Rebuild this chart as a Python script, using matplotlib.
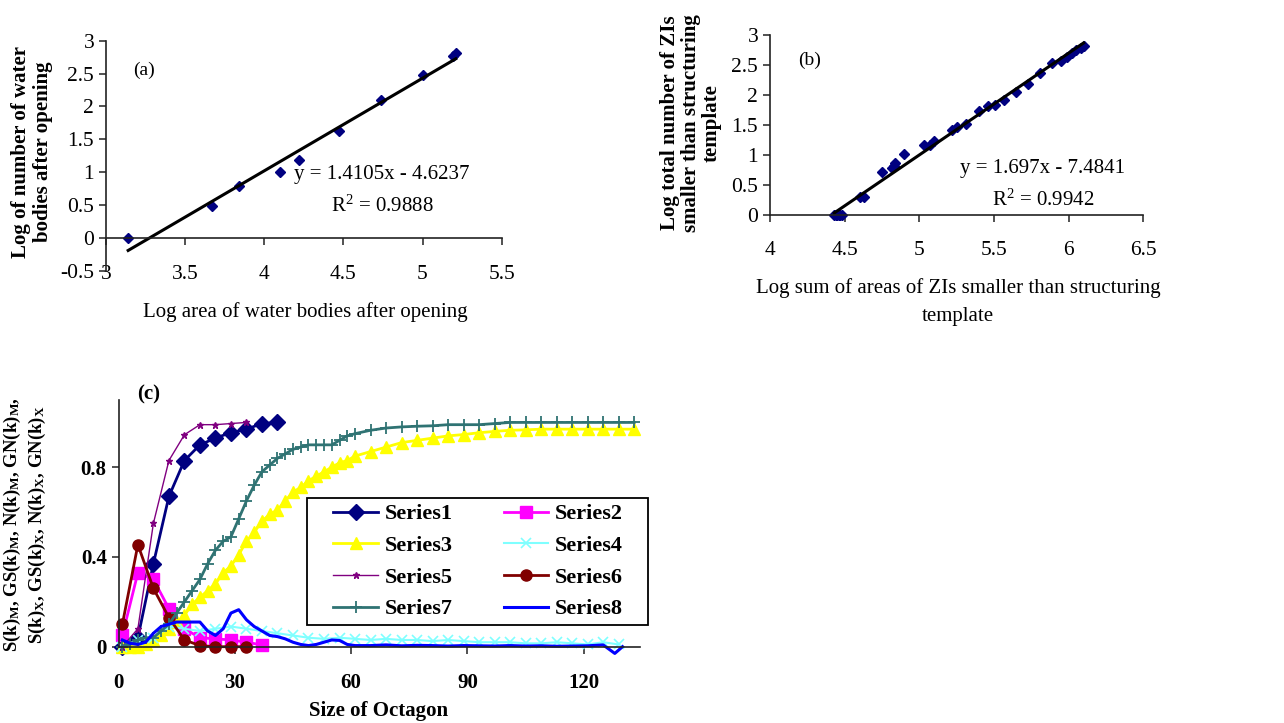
import matplotlib
matplotlib.use("Agg")
import matplotlib.pyplot as plt
from matplotlib.patches import Rectangle
import numpy as np

plt.rcParams['font.family'] = ['Liberation Serif', 'DejaVu Serif']
plt.rcParams['mathtext.fontset'] = 'custom'
plt.rcParams['mathtext.rm'] = 'Liberation Serif'
plt.rcParams['mathtext.bf'] = 'Liberation Serif:bold'
plt.rcParams['mathtext.it'] = 'Liberation Serif:italic'

# ---------------- Panel (a) data ----------------
a_x = [3.14, 3.67, 3.84, 4.10, 4.22, 4.47, 4.74, 5.00, 5.19, 5.21]
a_y = [0.00, 0.48, 0.79, 1.00, 1.18, 1.63, 2.09, 2.47, 2.76, 2.81]
a_slope, a_intercept = 1.4105, -4.6237
a_eq = "y = 1.4105x - 4.6237"
a_r2 = "R$^2$ = 0.9888"
a_xticks = [3, 3.5, 4, 4.5, 5, 5.5]
a_xticklabels = ["3", "3.5", "4", "4.5", "5", "5.5"]
a_yticks = [-0.5, 0, 0.5, 1, 1.5, 2, 2.5, 3]
a_yticklabels = ["-0.5", "0", "0.5", "1", "1.5", "2", "2.5", "3"]

# ---------------- Panel (b) data ----------------
b_x = [4.43, 4.44, 4.45, 4.46, 4.47, 4.48, 4.60, 4.63, 4.75, 4.82, 4.83,
       4.84, 4.90, 5.03, 5.07, 5.10, 5.22, 5.25, 5.31, 5.40, 5.46, 5.51,
       5.57, 5.65, 5.73, 5.81, 5.89, 5.95, 5.99, 6.02, 6.05, 6.08, 6.10]
b_y = [0.00, 0.00, 0.00, 0.00, 0.00, 0.00, 0.30, 0.30, 0.72, 0.78, 0.81,
       0.86, 1.02, 1.16, 1.17, 1.24, 1.42, 1.46, 1.52, 1.73, 1.81, 1.83,
       1.92, 2.05, 2.18, 2.36, 2.54, 2.57, 2.64, 2.70, 2.75, 2.78, 2.81]
b_slope, b_intercept = 1.697, -7.4841
b_eq = "y = 1.697x - 7.4841"
b_r2 = "R$^2$ = 0.9942"
b_xticks = [4, 4.5, 5, 5.5, 6, 6.5]
b_xticklabels = ["4", "4.5", "5", "5.5", "6", "6.5"]
b_yticks = [0, 0.5, 1, 1.5, 2, 2.5, 3]
b_yticklabels = ["0", "0.5", "1", "1.5", "2", "2.5", "3"]

# ---------------- Panel (c) data ----------------
s1_x = [1, 5, 9, 13, 17, 21, 25, 29, 33, 37, 41]
s1_y = [0.00, 0.04, 0.37, 0.67, 0.83, 0.90, 0.93, 0.955, 0.97, 0.995, 1.00]

s2_x = [1, 5, 9, 13, 17, 21, 25, 29, 33, 37]
s2_y = [0.05, 0.33, 0.30, 0.17, 0.08, 0.04, 0.035, 0.03, 0.02, 0.008]

s37_x = [1, 3, 5, 7, 9, 11, 13, 15, 17, 19, 21, 23, 25, 27, 29, 31, 33, 35,
         37, 39, 41, 43, 45, 47, 49, 51, 53, 55, 57, 59, 61, 65, 69, 73, 77,
         81, 85, 89, 93, 97, 101, 105, 109, 113, 117, 121, 125, 129, 133]
s3_y = [0.00, 0.00, 0.00, 0.01, 0.03, 0.05, 0.08, 0.11, 0.14, 0.19, 0.22,
        0.25, 0.28, 0.33, 0.36, 0.41, 0.47, 0.51, 0.56, 0.59, 0.61, 0.65,
        0.69, 0.71, 0.74, 0.76, 0.78, 0.80, 0.82, 0.83, 0.85, 0.87, 0.89,
        0.91, 0.92, 0.93, 0.94, 0.946, 0.954, 0.96, 0.965, 0.967, 0.97,
        0.97, 0.97, 0.97, 0.97, 0.97, 0.97]
s7_y = [0.00, 0.01, 0.03, 0.04, 0.04, 0.07, 0.10, 0.15, 0.20, 0.25, 0.30,
        0.37, 0.43, 0.47, 0.49, 0.57, 0.65, 0.72, 0.78, 0.81, 0.84, 0.86,
        0.88, 0.89, 0.90, 0.90, 0.90, 0.90, 0.92, 0.94, 0.95, 0.965, 0.975,
        0.98, 0.983, 0.985, 0.99, 0.99, 0.99, 0.995, 1.00, 1.00, 1.00,
        1.00, 1.00, 1.00, 1.00, 1.00, 1.00]

s4_x = [1, 5, 9, 13, 17, 21, 25, 29, 33, 37, 41, 45, 49, 53, 57, 61, 65,
        69, 73, 77, 81, 85, 89, 93, 97, 101, 105, 109, 113, 117, 121, 125, 129]
s4_y = [0.00, 0.03, 0.04, 0.09, 0.08, 0.07, 0.08, 0.09, 0.08, 0.07, 0.06,
        0.05, 0.04, 0.035, 0.04, 0.035, 0.03, 0.035, 0.03, 0.03, 0.025,
        0.03, 0.025, 0.02, 0.02, 0.02, 0.015, 0.015, 0.02, 0.015, 0.01,
        0.02, 0.01]

s5_x = [1, 5, 9, 13, 17, 21, 25, 29, 33]
s5_y = [0.00, 0.08, 0.55, 0.83, 0.945, 0.99, 0.99, 0.995, 1.00]

s6_x = [1, 5, 9, 13, 17, 21, 25, 29, 33]
s6_y = [0.10, 0.455, 0.26, 0.13, 0.03, 0.005, 0.00, 0.00, 0.00]

s8_x = [1, 3, 5, 7, 9, 11, 13, 15, 17, 19, 21, 23, 25, 27, 29, 31, 33, 35,
        37, 39, 41, 43, 45, 47, 49, 51, 53, 55, 57, 59, 61, 65, 69, 73, 77,
        81, 85, 89, 93, 97, 101, 105, 109, 113, 117, 121, 125, 128, 130]
s8_y = [0.03, 0.015, 0.01, 0.02, 0.06, 0.09, 0.10, 0.11, 0.11, 0.11, 0.11,
        0.07, 0.05, 0.08, 0.15, 0.165, 0.12, 0.09, 0.07, 0.05, 0.045, 0.035,
        0.02, 0.01, 0.005, 0.01, 0.02, 0.03, 0.028, 0.01, 0.005, 0.005,
        0.008, 0.004, 0.006, 0.005, 0.003, 0.005, 0.004, 0.003, 0.005,
        0.003, 0.004, 0.002, 0.003, 0.004, 0.008, -0.03, 0.00]

c_xticks = [0, 30, 60, 90, 120]
c_yticks = [0, 0.4, 0.8]
c_yticklabels = ["0", "0.4", "0.8"]
series_names = ["Series1", "Series2", "Series3", "Series4",
                "Series5", "Series6", "Series7", "Series8"]

W, H = 1284, 723
fig = plt.figure(figsize=(W / 100, H / 100), dpi=100)


def frac(left, top, right, bottom):
    return [left / W, 1 - bottom / H, (right - left) / W, (bottom - top) / H]


def style_axes(ax, fs, bold=False):
    ax.spines['top'].set_visible(False)
    ax.spines['right'].set_visible(False)
    for s in ('left', 'bottom'):
        ax.spines[s].set_linewidth(1.2)
        ax.spines[s].set_color('#222222')
    ax.tick_params(direction='out', length=5, width=1.1, labelsize=fs,
                   color='#222222')
    if bold:
        for lab in ax.get_xticklabels() + ax.get_yticklabels():
            lab.set_fontweight('bold')


# ---------------- Panel (a) ----------------
ax_a = fig.add_axes(frac(106, 40.7, 501.7, 270.5))
ax_a.set_xlim(3, 5.5)
ax_a.set_ylim(-0.5, 3)
ax_a.spines['bottom'].set_position(('data', 0))
ax_a.set_xticks(a_xticks)
ax_a.set_xticklabels(a_xticklabels)
ax_a.set_yticks(a_yticks)
ax_a.set_yticklabels(a_yticklabels)
style_axes(ax_a, 15.5)
ax_a.tick_params(axis='x', pad=15)
ax_a.plot(a_x, a_y, linestyle='none', marker='D', markersize=5,
          color='#000080', clip_on=False)
a_line_x = np.array([min(a_x), max(a_x)])
ax_a.plot(a_line_x, a_slope * a_line_x + a_intercept, color='black', lw=2.2)
fig.text(382 / W, 1 - 175 / H, a_eq, fontsize=15, ha='center', va='center')
fig.text(382 / W, 1 - 206 / H, a_r2, fontsize=15, ha='center', va='center')
fig.text(144 / W, 1 - 70 / H, "(a)", fontsize=14, ha='center', va='center')
fig.text(32 / W, 1 - 152 / H, "Log of number of water\nbodies after opening",
         rotation=90, fontsize=15, fontweight='bold', ha='center',
         va='center', multialignment='center', linespacing=1.1)
fig.text(305 / W, 1 - 312 / H, "Log area of water bodies after opening",
         fontsize=15, ha='center', va='center')

# ---------------- Panel (b) ----------------
ax_b = fig.add_axes(frac(770, 35, 1143.3, 215))
ax_b.set_xlim(4, 6.5)
ax_b.set_ylim(0, 3)
ax_b.set_xticks(b_xticks)
ax_b.set_xticklabels(b_xticklabels)
ax_b.set_yticks(b_yticks)
ax_b.set_yticklabels(b_yticklabels)
style_axes(ax_b, 15.5)
ax_b.tick_params(axis='x', pad=14)
ax_b.plot(b_x, b_y, linestyle='none', marker='D', markersize=5,
          color='#000080', clip_on=False)
b_line_x = np.array([min(b_x), max(b_x)])
ax_b.plot(b_line_x, b_slope * b_line_x + b_intercept, color='black', lw=2.2)
fig.text(1042 / W, 1 - 168 / H, b_eq, fontsize=15, ha='center', va='center')
fig.text(1043 / W, 1 - 200 / H, b_r2, fontsize=15, ha='center', va='center')
fig.text(810 / W, 1 - 60 / H, "(b)", fontsize=14, ha='center', va='center')
fig.text(691 / W, 1 - 123 / H,
         "Log total number of ZIs\nsmaller than structuring\ntemplate",
         rotation=90, fontsize=15, fontweight='bold', ha='center',
         va='center', multialignment='center', linespacing=1.05)
fig.text(958 / W, 1 - 302 / H,
         "Log sum of areas of ZIs smaller than structuring\ntemplate",
         fontsize=15, ha='center', va='center', multialignment='center',
         linespacing=1.6)

# ---------------- Panel (c) ----------------
ax_c = fig.add_axes(frac(118.5, 400, 640, 646.7))
ax_c.set_xlim(0, 134.5)
ax_c.set_ylim(0, 1.1)
ax_c.set_xticks(c_xticks)
ax_c.set_yticks(c_yticks)
ax_c.set_yticklabels(c_yticklabels)
style_axes(ax_c, 15, bold=True)
ax_c.tick_params(axis='x', pad=14)

h1, = ax_c.plot(s1_x, s1_y, color='#000080', lw=2, marker='D',
                markersize=8, clip_on=False)
h2, = ax_c.plot(s2_x, s2_y, color='#FF00FF', lw=2, marker='s',
                markersize=8, clip_on=False)
h3, = ax_c.plot(s37_x, s3_y, color='#FFFF00', lw=2, marker='^',
                markersize=9, clip_on=False)
h4, = ax_c.plot(s4_x, s4_y, color='#7FFFFF', lw=1.5, marker='x',
                markersize=7, mew=1.2, clip_on=False)
h5, = ax_c.plot(s5_x, s5_y, color='#800080', lw=1, marker='*',
                markersize=5, clip_on=False)
h6, = ax_c.plot(s6_x, s6_y, color='#800000', lw=2, marker='o',
                markersize=8, clip_on=False)
h7, = ax_c.plot(s37_x, s7_y, color='#2F7373', lw=2, marker='+',
                markersize=9, mew=1.3, clip_on=False)
h8, = ax_c.plot(s8_x, s8_y, color='#0000FF', lw=2.2, clip_on=False)

# legend frame (figure coordinates, extends slightly beyond the axis)
frame = Rectangle((307 / W, 1 - 625 / H), 341 / W, 127 / H,
                  transform=fig.transFigure, facecolor='white',
                  edgecolor='black', lw=1.3, zorder=3)
fig.patches.append(frame)

handles = [h1, h3, h5, h7, h2, h4, h6, h8]
labels = [series_names[i] for i in (0, 2, 4, 6, 1, 3, 5, 7)]
leg = fig.legend(handles, labels, ncol=2, loc='center',
                 bbox_to_anchor=(478 / W, 1 - 561.5 / H),
                 bbox_transform=fig.transFigure, frameon=False,
                 prop={'family': 'Liberation Serif', 'weight': 'bold',
                       'size': 16},
                 handlelength=2.0, columnspacing=2.3, labelspacing=0.5,
                 borderpad=0.1, handletextpad=0.3)
leg.set_zorder(5)

fig.text(149 / W, 1 - 394 / H, "(c)", fontsize=15, fontweight='bold',
         ha='center', va='center')
fig.text(25 / W, 1 - 525 / H,
         r"S(k)$_{\mathbf{M}}$, GS(k)$_{\mathbf{M}}$, N(k)$_{\mathbf{M}}$, GN(k)$_{\mathbf{M}}$," "\n"
         r"S(k)$_{\mathbf{X}}$, GS(k)$_{\mathbf{X}}$, N(k)$_{\mathbf{X}}$, GN(k)$_{\mathbf{X}}$",
         rotation=90, fontsize=13.5, fontweight='bold', ha='center',
         va='center', multialignment='center', linespacing=1.2)
fig.text(379 / W, 1 - 711 / H, "Size of Octagon", fontsize=15,
         fontweight='bold', ha='center', va='center')

fig.savefig("out.png", dpi=100)
